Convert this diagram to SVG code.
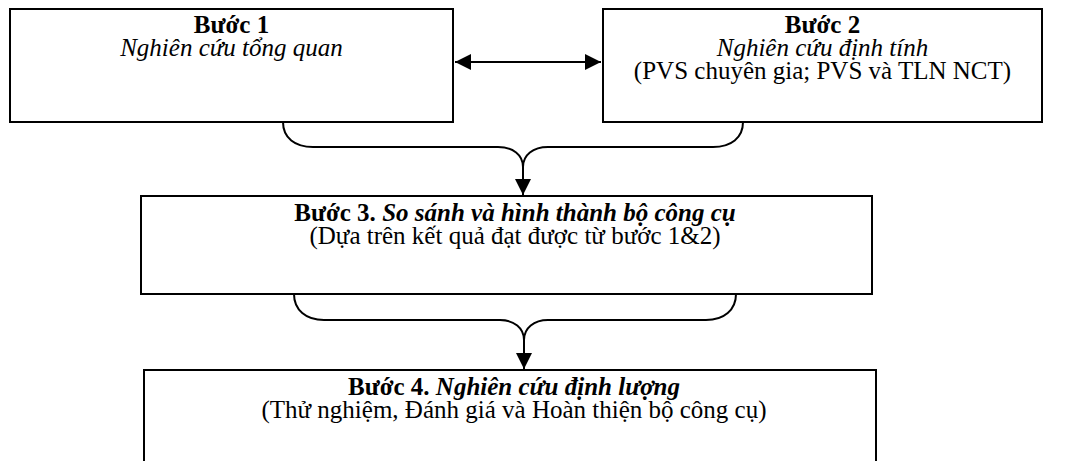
<svg xmlns="http://www.w3.org/2000/svg" width="1065" height="461" viewBox="0 0 1065 461">
<style>
.box{fill:#fff;stroke:#000;stroke-width:2}
.con{fill:none;stroke:#000;stroke-width:2}
.b{font-weight:bold}
.i{font-style:italic}
.bi{font-weight:bold;font-style:italic}
</style>
<defs>
<marker id="ah2" viewBox="0 0 16 16" refX="16" refY="8" markerWidth="16" markerHeight="16" markerUnits="userSpaceOnUse" orient="auto-start-reverse">
<path d="M0,0 L16,8 L0,16 z" fill="#000"/>
</marker>
</defs>
<rect width="1065" height="461" fill="#fff"/>
<g id="connectors">
<path class="con" d="M455,62 H601" marker-start="url(#ah2)" marker-end="url(#ah2)"/>
<path class="con" d="M283,122 C283,138 295,147 313,147 H498 C513,147 523,155 523,167"/>
<path class="con" d="M743,122 C743,138 731,147 713,147 H548 C533,147 523,155 523,167"/>
<path class="con" d="M523,165 V195" marker-end="url(#ah2)"/>
<path class="con" d="M294,294 C294,310 306,320 324,320 H500 C514,320 524,328 524,340"/>
<path class="con" d="M736,294 C736,310 724,320 706,320 H548 C534,320 524,328 524,340"/>
<path class="con" d="M524,338 V369" marker-end="url(#ah2)"/>
</g>
<g font-family="Liberation Serif, Times New Roman, serif" font-size="25" text-anchor="middle" fill="#000">
<g id="step1">
<rect class="box" x="10" y="9" width="443" height="113"/>
<text class="b" x="231.5" y="33">Bước 1</text>
<text class="i" x="231.5" y="56">Nghiên cứu tổng quan</text>
</g>
<g id="step2">
<rect class="box" x="603" y="9" width="439" height="113"/>
<text class="b" x="822.5" y="33">Bước 2</text>
<text class="i" x="822.5" y="56">Nghiên cứu định tính</text>
<text x="822.5" y="79">(PVS chuyên gia; PVS và TLN NCT)</text>
</g>
<g id="step3">
<rect class="box" x="141" y="196" width="731" height="98"/>
<text x="515" y="221"><tspan class="b">Bước 3. </tspan><tspan class="bi">So sánh và hình thành bộ công cụ</tspan></text>
<text x="515" y="244">(Dựa trên kết quả đạt được từ bước 1&amp;2)</text>
</g>
<g id="step4">
<rect class="box" x="144" y="370" width="732" height="110"/>
<text x="514" y="395"><tspan class="b">Bước 4. </tspan><tspan class="bi">Nghiên cứu định lượng</tspan></text>
<text x="514" y="418">(Thử nghiệm, Đánh giá và Hoàn thiện bộ công cụ)</text>
</g>
</g>
</svg>
